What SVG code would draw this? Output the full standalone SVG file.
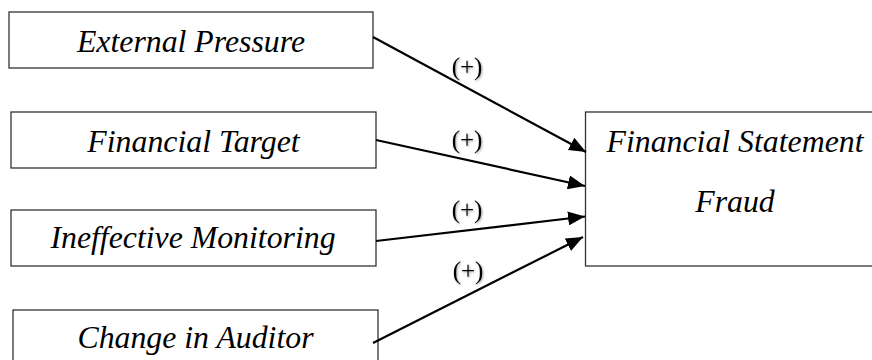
<svg xmlns="http://www.w3.org/2000/svg" width="872" height="360" viewBox="0 0 872 360">
  <style>
    .box { fill: #ffffff; stroke: #333333; stroke-width: 1.3; }
    .label { font-style: italic; font-size: 31.8px; fill: #000000; text-anchor: middle; }
    .sign { font-size: 25px; fill: #000000; text-anchor: middle; filter: url(#soft); }
    .edge { stroke: #000000; stroke-width: 2.2; fill: none; marker-end: url(#arrow); }
  </style>
  <defs>
    <marker id="arrow" viewBox="0 0 17 14" refX="17" refY="7" markerWidth="17" markerHeight="14" markerUnits="userSpaceOnUse" orient="auto">
      <path d="M0,0 L17,7 L0,14 Z" fill="#000000"/>
    </marker>
    <filter id="soft" x="-30%" y="-30%" width="160%" height="160%">
      <feDropShadow dx="1" dy="1" stdDeviation="1" flood-color="#000000" flood-opacity="0.35"/>
    </filter>
  </defs>

  <rect width="872" height="360" fill="#ffffff"/>

  <g font-family="Liberation Serif, Times New Roman, serif">
    <g id="external-pressure">
      <rect class="box" x="9" y="12" width="364" height="56"/>
      <text class="label" x="191" y="52">External Pressure</text>
    </g>
    <g id="financial-target">
      <rect class="box" x="11" y="112" width="365" height="56"/>
      <text class="label" x="193.5" y="152">Financial Target</text>
    </g>
    <g id="ineffective-monitoring">
      <rect class="box" x="11" y="210" width="365" height="56"/>
      <text class="label" x="193" y="248">Ineffective Monitoring</text>
    </g>
    <g id="change-in-auditor">
      <rect class="box" x="13" y="310" width="365" height="60"/>
      <text class="label" x="195.5" y="348">Change in Auditor</text>
    </g>
    <g id="financial-statement-fraud">
      <rect class="box" x="585.5" y="112" width="300" height="154"/>
      <text class="label" x="735" y="152">Financial Statement</text>
      <text class="label" x="735" y="212">Fraud</text>
    </g>

    <g id="connectors">
      <line class="edge" x1="373" y1="37" x2="586" y2="152"/>
      <line class="edge" x1="376" y1="140" x2="585" y2="186"/>
      <line class="edge" x1="376" y1="241" x2="585" y2="216.5"/>
      <line class="edge" x1="373" y1="343" x2="583" y2="237"/>
      <text class="sign" x="467" y="75">(+)</text>
      <text class="sign" x="467" y="148">(+)</text>
      <text class="sign" x="467" y="218">(+)</text>
      <text class="sign" x="468" y="279">(+)</text>
    </g>
  </g>
</svg>
